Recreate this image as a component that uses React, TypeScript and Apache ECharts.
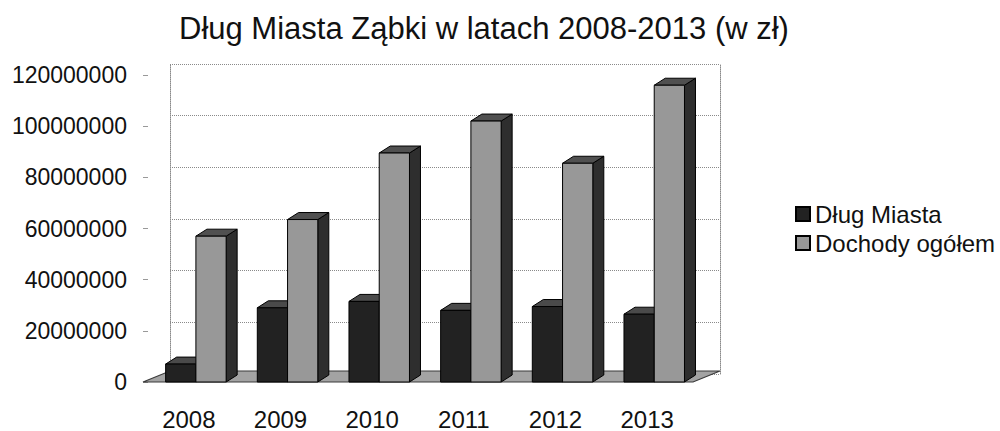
import React, { useEffect, useRef } from "react";
import * as echarts from "echarts";

const TITLE = "Dług Miasta Ząbki w latach 2008-2013 (w zł)";
const years = ["2008", "2009", "2010", "2011", "2012", "2013"];
const seriesNames = ["Dług Miasta", "Dochody ogółem"];
const dlugMiasta = [7000000, 29000000, 31500000, 28000000, 29500000, 26500000];
const dochodyOgolem = [57000000, 63500000, 89500000, 102000000, 85500000, 116000000];
const yMin = 0;
const yMax = 120000000;
const yInterval = 20000000;

const FONT = "'Liberation Sans', Arial, Helvetica, sans-serif";

// grid geometry (front face & back wall)
const GRID_LEFT = 143;
const GRID_RIGHT = 307;
const GRID_TOP = 75;
const GRID_BOTTOM = 46;
const WALL_DX = 27;
const WALL_DY = -11;
const BAR_DX = 11;
const BAR_DY = -7;

const makeBar = (side: number, front: string, top: string, sideC: string) => (params: any, api: any) => {
  const cat = api.value(0);
  const val = api.value(1);
  const p0 = api.coord([cat, 0]);
  const p1 = api.coord([cat, val]);
  const band = api.size([1, 0])[0];
  const w = band * 0.33;
  const cx = p0[0] + band * 0.077;
  const x0 = side < 0 ? cx - w : cx;
  const x1 = x0 + w;
  const yb = p0[1];
  const yt = p1[1];
  return {
    type: "group",
    children: [
      {
        type: "polygon",
        shape: { points: [[x1, yt], [x1 + BAR_DX, yt + BAR_DY], [x1 + BAR_DX, yb + BAR_DY], [x1, yb]] },
        style: { fill: sideC, stroke: "#000", lineWidth: 1 },
      },
      {
        type: "polygon",
        shape: { points: [[x0, yt], [x0 + BAR_DX, yt + BAR_DY], [x1 + BAR_DX, yt + BAR_DY], [x1, yt]] },
        style: { fill: top, stroke: "#000", lineWidth: 1 },
      },
      {
        type: "rect",
        shape: { x: x0, y: yt, width: w, height: yb - yt },
        style: { fill: front, stroke: "#000", lineWidth: 1 },
      },
    ],
  };
};

const renderFloor = (params: any, api: any) => {
  const band = api.size([1, 0])[0];
  const a = api.coord([0, 0]);
  const b = api.coord([years.length - 1, 0]);
  const xl = a[0] - band / 2;
  const xr = b[0] + band / 2;
  const y = a[1];
  return {
    type: "polygon",
    shape: { points: [[xl, y], [xr, y], [xr + WALL_DX, y + WALL_DY], [xl + WALL_DX, y + WALL_DY]] },
    style: { fill: "#a3a3a3", stroke: "#3a3a3a", lineWidth: 1.2 },
  };
};

export default function App() {
  const ref = useRef<HTMLDivElement>(null);
  useEffect(() => {
    if (!ref.current) return;
    const chart = echarts.init(ref.current, undefined, { renderer: "svg" });
    const gridLine = { type: "dotted" as const, color: "#8a8a8a", width: 1 };
    chart.setOption({
      animation: false,
      backgroundColor: "#ffffff",
      textStyle: { fontFamily: FONT },
      title: {
        text: TITLE,
        left: 174,
        top: 8,
        textStyle: { fontFamily: FONT, fontSize: 31, fontWeight: "normal", color: "#111" },
      },
      legend: {
        data: seriesNames,
        orient: "vertical",
        left: 790,
        top: 197,
        itemWidth: 14,
        itemHeight: 14,
        itemGap: 5,
        icon: "rect",
        textStyle: { fontFamily: FONT, fontSize: 24, color: "#111" },
      },
      grid: [
        { left: GRID_LEFT, right: GRID_RIGHT, top: GRID_TOP, bottom: GRID_BOTTOM },
        {
          left: GRID_LEFT + WALL_DX,
          right: GRID_RIGHT - WALL_DX,
          top: GRID_TOP + WALL_DY,
          bottom: GRID_BOTTOM - WALL_DY,
        },
      ],
      xAxis: [
        {
          type: "category",
          gridIndex: 0,
          data: years,
          axisLine: { show: false },
          axisTick: { show: false },
          axisLabel: { margin: 25, fontFamily: FONT, fontSize: 24, color: "#111" },
          splitLine: { show: false },
        },
        {
          type: "category",
          gridIndex: 1,
          data: years,
          show: false,
        },
      ],
      yAxis: [
        {
          type: "value",
          gridIndex: 0,
          min: yMin,
          max: yMax,
          interval: yInterval,
          axisLine: { show: false },
          axisTick: { show: true, inside: true, length: 5, lineStyle: { color: "#999" } },
          splitLine: { show: false },
          axisLabel: {
            margin: 16,
            fontFamily: FONT,
            fontSize: 23,
            color: "#111",
            formatter: (v: number) => String(v),
          },
        },
        {
          type: "value",
          gridIndex: 1,
          min: yMin,
          max: yMax,
          interval: yInterval,
          axisLine: { show: true, lineStyle: gridLine },
          axisTick: { show: false },
          axisLabel: { show: false },
          splitLine: { show: true, lineStyle: gridLine },
        },
        {
          type: "value",
          gridIndex: 1,
          position: "right",
          min: yMin,
          max: yMax,
          interval: yInterval,
          axisLine: { show: true, lineStyle: gridLine },
          axisTick: { show: false },
          axisLabel: { show: false },
          splitLine: { show: false },
        },
      ],
      series: [
        {
          type: "custom",
          name: "floor",
          xAxisIndex: 0,
          yAxisIndex: 0,
          renderItem: renderFloor,
          data: [[0, 0]],
          clip: false,
          silent: true,
          z: 1,
        },
        {
          type: "custom",
          name: seriesNames[0],
          xAxisIndex: 0,
          yAxisIndex: 0,
          renderItem: makeBar(-1, "#222222", "#4a4a4a", "#111111"),
          itemStyle: { color: "#222222", borderColor: "#000", borderWidth: 1 },
          data: dlugMiasta.map((v, i) => [i, v]),
          encode: { x: 0, y: 1 },
          clip: false,
          z: 2,
        },
        {
          type: "custom",
          name: seriesNames[1],
          xAxisIndex: 0,
          yAxisIndex: 0,
          renderItem: makeBar(1, "#989898", "#505050", "#2e2e2e"),
          itemStyle: { color: "#989898", borderColor: "#000", borderWidth: 1 },
          data: dochodyOgolem.map((v, i) => [i, v]),
          encode: { x: 0, y: 1 },
          clip: false,
          z: 3,
        },
      ],
    });
    return () => chart.dispose();
  }, []);
  return (
    <div
      ref={ref}
      style={{ position: "fixed", left: 0, top: 0, width: 1000, height: 431, background: "#fff" }}
    />
  );
}
